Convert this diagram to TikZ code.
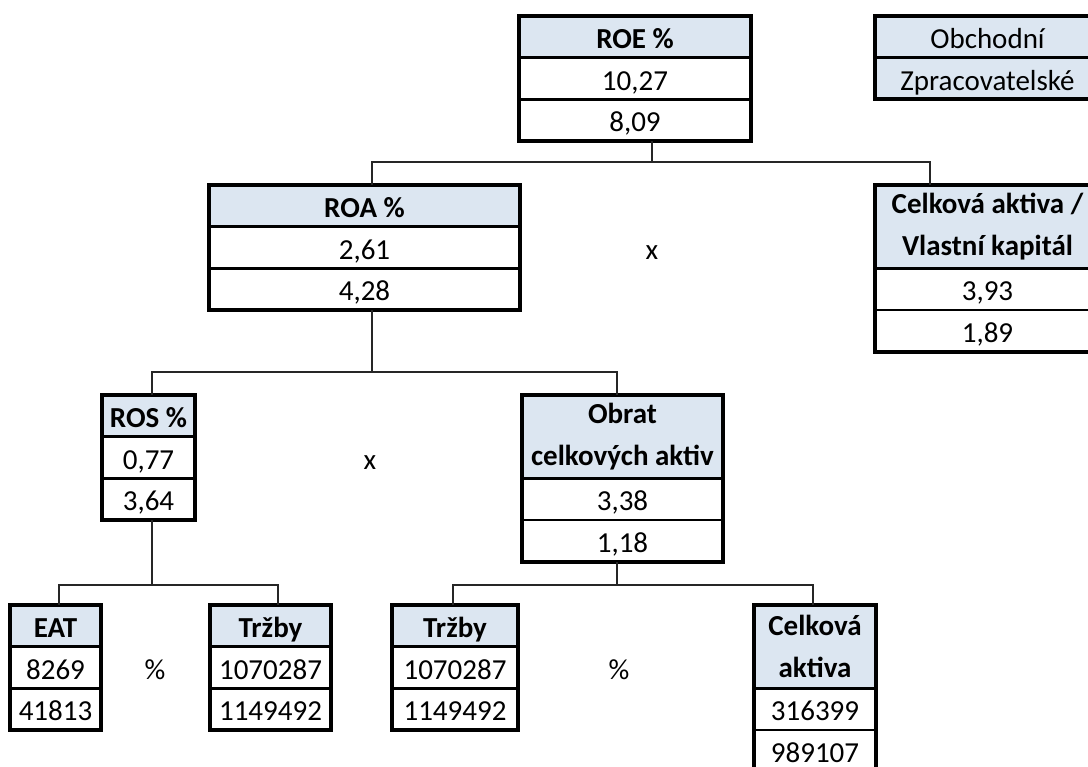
\documentclass[tikz,border=0pt]{standalone}
\usepackage{fontspec}
\setmainfont{Carlito}
\definecolor{hdrblue}{HTML}{DCE6F1}
\newcommand{\cellfont}{\fontsize{29}{41.7}\selectfont}
\tikzset{
  boxbase/.style={rectangle, anchor=north west, inner sep=0pt, outer sep=0pt,
    draw=black, line width=2.4pt, font=\cellfont},
  cell/.style={boxbase, minimum height=41.7pt, text height=26pt, text depth=3pt},
  val/.style={cell, fill=white},
  hdr/.style={cell, fill=hdrblue, font=\cellfont\bfseries},
  hdrtwo/.style={boxbase, minimum height=83.4pt, fill=hdrblue, align=center,
    font=\cellfont\bfseries},
  legendcell/.style={cell, fill=hdrblue},
  frame/.style={draw=black, line width=4pt},
  hsep/.style={draw=black, line width=3.2pt},
  link/.style={draw=black!85, line width=1.8pt},
  op/.style={inner sep=0pt, font=\cellfont, text height=26pt, text depth=3pt,
    minimum height=41.7pt}
}
\begin{document}
\begin{tikzpicture}[x=1pt, y=-1pt]
\useasboundingbox (0,0) rectangle (1088,767);
\clip (0,0) rectangle (1088,767);

% bus coordinates of the connector tree
\coordinate (b1m) at (652,162);
\coordinate (b1l) at (372,162);
\coordinate (b1r) at (930,162);
\coordinate (b2m) at (372,372);
\coordinate (b2l) at (152,372);
\coordinate (b2r) at (617,372);
\coordinate (b3m) at (152,585);
\coordinate (b3l) at (59,585);
\coordinate (b3r) at (278,585);
\coordinate (b4m) at (617,585);
\coordinate (b4l) at (453,585);
\coordinate (b4r) at (813,585);

% ROE
\node[hdr, minimum width=232pt] (roe-h) at (519,16) {ROE \%};
\node[val, minimum width=232pt] (roe-a) at (roe-h.south west) {10,27};
\node[val, minimum width=232pt] (roe-b) at (roe-a.south west) {8,09};
\draw[hsep] (roe-h.south west) -- (roe-h.south east);
\draw[frame] (roe-h.north west) rectangle (roe-b.south east);

% legend
\node[legendcell, minimum width=225pt] (leg-a) at (875,16) {Obchodní};
\node[legendcell, minimum width=225pt] (leg-b) at (leg-a.south west) {Zpracovatelské};
\draw[frame] (leg-a.north west) rectangle (leg-b.south east);

% ROA
\node[hdr, minimum width=311pt] (roa-h) at (209,185) {ROA \%};
\node[val, minimum width=311pt] (roa-a) at (roa-h.south west) {2,61};
\node[val, minimum width=311pt] (roa-b) at (roa-a.south west) {4,28};
\draw[hsep] (roa-h.south west) -- (roa-h.south east);
\draw[frame] (roa-h.north west) rectangle (roa-b.south east);

% Celkova aktiva / Vlastni kapital
\node[hdrtwo, minimum width=225pt] (cvk-h) at (875,185) {Celková aktiva /\\Vlastní kapitál};
\node[val, minimum width=225pt] (cvk-a) at (cvk-h.south west) {3,93};
\node[val, minimum width=225pt] (cvk-b) at (cvk-a.south west) {1,89};
\draw[hsep] (cvk-h.south west) -- (cvk-h.south east);
\draw[frame] (cvk-h.north west) rectangle (cvk-b.south east);

% ROS
\node[hdr, minimum width=93pt] (ros-h) at (102,395) {ROS \%};
\node[val, minimum width=93pt] (ros-a) at (ros-h.south west) {0,77};
\node[val, minimum width=93pt] (ros-b) at (ros-a.south west) {3,64};
\draw[hsep] (ros-h.south west) -- (ros-h.south east);
\draw[frame] (ros-h.north west) rectangle (ros-b.south east);

% Obrat celkovych aktiv
\node[hdrtwo, minimum width=201pt] (obr-h) at (522,395) {Obrat\\celkových aktiv};
\node[val, minimum width=201pt] (obr-a) at (obr-h.south west) {3,38};
\node[val, minimum width=201pt] (obr-b) at (obr-a.south west) {1,18};
\draw[hsep] (obr-h.south west) -- (obr-h.south east);
\draw[frame] (obr-h.north west) rectangle (obr-b.south east);

% EAT
\node[hdr, minimum width=91pt] (eat-h) at (10,605) {EAT};
\node[val, minimum width=91pt] (eat-a) at (eat-h.south west) {8269};
\node[val, minimum width=91pt] (eat-b) at (eat-a.south west) {41813};
\draw[hsep] (eat-h.south west) -- (eat-h.south east);
\draw[frame] (eat-h.north west) rectangle (eat-b.south east);

% Trzby (left)
\node[hdr, minimum width=121pt] (tr1-h) at (210,605) {Tržby};
\node[val, minimum width=121pt] (tr1-a) at (tr1-h.south west) {1070287};
\node[val, minimum width=121pt] (tr1-b) at (tr1-a.south west) {1149492};
\draw[hsep] (tr1-h.south west) -- (tr1-h.south east);
\draw[frame] (tr1-h.north west) rectangle (tr1-b.south east);

% Trzby (right)
\node[hdr, minimum width=126pt] (tr2-h) at (392,605) {Tržby};
\node[val, minimum width=126pt] (tr2-a) at (tr2-h.south west) {1070287};
\node[val, minimum width=126pt] (tr2-b) at (tr2-a.south west) {1149492};
\draw[hsep] (tr2-h.south west) -- (tr2-h.south east);
\draw[frame] (tr2-h.north west) rectangle (tr2-b.south east);

% Celkova aktiva
\node[hdrtwo, minimum width=122pt] (cak-h) at (754,605) {Celková\\aktiva};
\node[val, minimum width=122pt] (cak-a) at (cak-h.south west) {316399};
\node[val, minimum width=122pt] (cak-b) at (cak-a.south west) {989107};
\draw[hsep] (cak-h.south west) -- (cak-h.south east);
\draw[frame] (cak-h.north west) rectangle (cak-b.south east);

% operators between the boxes
\node[op] (op-x1) at (652,247.55) {x};
\node[op] (op-x2) at (370,457.55) {x};
\node[op] (op-p1) at (155,667.55) {\%};
\node[op] (op-p2) at (619,667.55) {\%};

% connector tree
\draw[link] (roe-b.south -| b1m) -- (b1m);
\draw[link] (roa-h.north -| b1l) -- (b1l) -- (b1r) -- (cvk-h.north -| b1r);
\draw[link] (roa-b.south -| b2m) -- (b2m);
\draw[link] (ros-h.north -| b2l) -- (b2l) -- (b2r) -- (obr-h.north -| b2r);
\draw[link] (ros-b.south -| b3m) -- (b3m);
\draw[link] (eat-h.north -| b3l) -- (b3l) -- (b3r) -- (tr1-h.north -| b3r);
\draw[link] (obr-b.south -| b4m) -- (b4m);
\draw[link] (tr2-h.north -| b4l) -- (b4l) -- (b4r) -- (cak-h.north -| b4r);
\end{tikzpicture}
\end{document}
